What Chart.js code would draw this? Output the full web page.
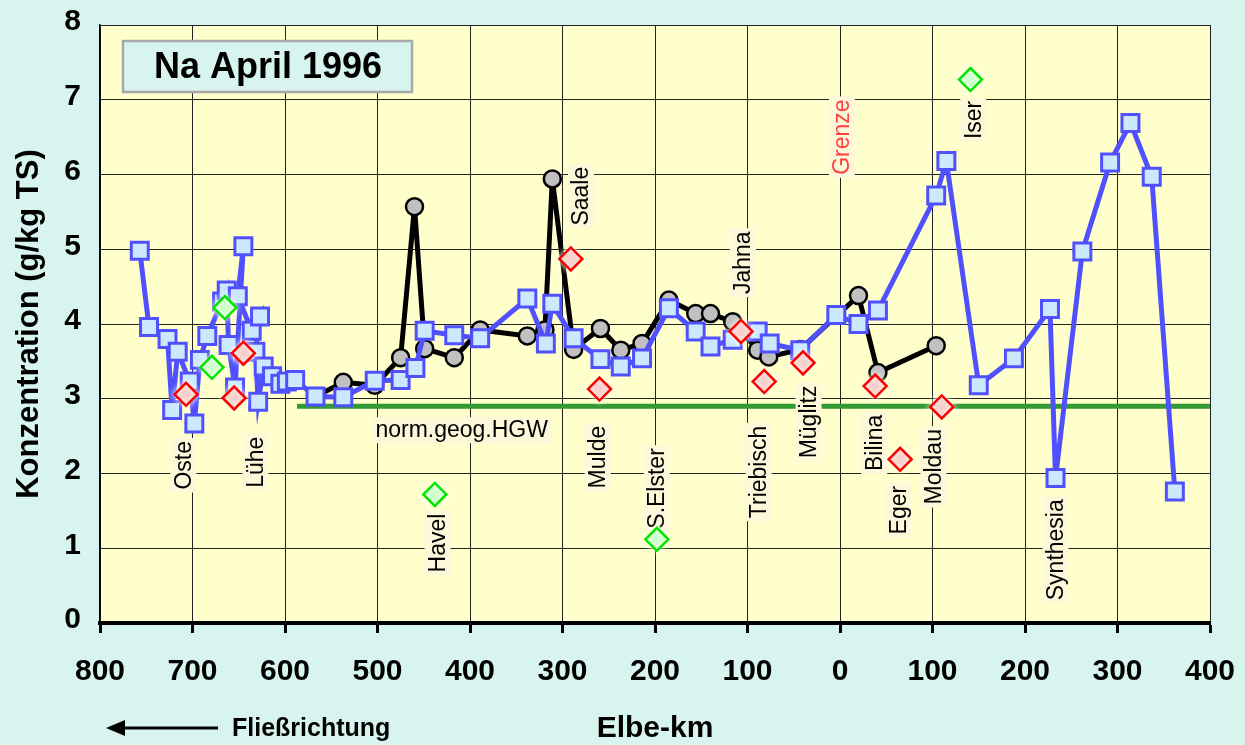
<!DOCTYPE html>
<html>
<head>
<meta charset="utf-8">
<script src="https://cdn.jsdelivr.net/npm/chart.js@4.4.1/dist/chart.umd.min.js"></script>
<style>
  html, body { margin: 0; padding: 0; background: #d8f4ee; }
  #wrap { width: 1245px; height: 745px; }
</style>
</head>
<body>
<div id="wrap"><canvas id="myChart" width="1245" height="745"></canvas></div>
<script>
'use strict';

// Elbe-km: German stretch as negative numbers (km from border downstream), Czech stretch positive
let mainKm = [
  -757, -747, -727, -722, -716, -703, -698, -692, -684, -668, -663, -661, -654, -645, -651,
  -636, -627, -632, -629, -623, -614, -605, -598, -589, -567, -537, -503, -475, -459, -449,
  -417, -389, -338, -318, -311, -288, -259, -237, -214, -185, -156, -140, -116, -89, -76,
  -43, -4, 20, 41, 104, 115, 150, 188, 227, 233, 262, 292, 314, 337, 362
];
let mainNa = [
  4.98, 3.96, 3.80, 2.85, 3.63, 3.23, 2.67, 3.52, 3.84, 4.30, 4.45, 3.72, 3.15, 5.04, 4.37,
  3.91, 4.10, 3.63, 2.96, 3.43, 3.30, 3.20, 3.23, 3.25, 3.03, 3.02, 3.24, 3.25, 3.41, 3.91,
  3.85, 3.81, 4.34, 3.74, 4.27, 3.81, 3.53, 3.43, 3.54, 4.21, 3.90, 3.70, 3.79, 3.90, 3.74,
  3.65, 4.12, 4.00, 4.18, 5.72, 6.18, 3.18, 3.54, 4.20, 1.94, 4.97, 6.16, 6.69, 5.97, 1.76
];

let secondKm = [
  -567, -537, -503, -475, -460, -449, -417, -389, -338, -319, -311, -288, -259, -237, -214,
  -185, -156, -140, -116, -89, -77, -43, 20, 41, 104
];
let secondNa = [
  3.03, 3.22, 3.18, 3.55, 5.57, 3.67, 3.55, 3.92, 3.84, 3.92, 5.94, 3.66, 3.94, 3.65, 3.74,
  4.32, 4.14, 4.14, 4.03, 3.65, 3.56, 3.66, 4.38, 3.35, 3.71
];

// tributaries
let redKm = [-707, -655, -645, -291, -260, -107, -82, -40, 38, 65, 110];
let redNa = [3.06, 3.01, 3.61, 4.87, 3.13, 3.90, 3.23, 3.48, 3.17, 2.19, 2.89];
let greenKm = [-679, -665, -438, -198, 141];
let greenNa = [3.42, 4.22, 1.72, 1.12, 7.27];

// geogener Hintergrundwert
let hgwKm = [-587, 400];
let hgwNa = [2.9, 2.9];

let yTicks = [0, 1, 2, 3, 4, 5, 6, 7, 8];

// text notes: name, km, value at text centre
let notes = [
  ['Oste', -710, 2.11],
  ['Lühe', -632, 2.15],
  ['Havel', -435, 1.07],
  ['Saale', -280, 5.71],
  ['Mulde', -262, 2.22],
  ['S.Elster', -198, 1.80],
  ['Jahna', -105, 4.82],
  ['Triebisch', -88, 2.02],
  ['Müglitz', -34, 2.69],
  ['Grenze', 2, 6.50],
  ['Iser', 144, 6.73],
  ['Bilina', 37, 2.41],
  ['Eger', 63, 1.51],
  ['Moldau', 101, 2.09],
  ['Synthesia', 233, 0.98]
];
let hgwNote = ['norm.geog.HGW', -409, 2.58];

const FONT = '"Liberation Sans", Arial, sans-serif';

function toPoints(xs, ys) {
  return xs.map((x, i) => ({ x: x, y: ys[i] }));
}

function drawNotes(chart) {
  const { ctx } = chart;
  const xs = chart.scales.x;
  const ys = chart.scales.y;
  ctx.save();
  ctx.font = '23px ' + FONT;
  ctx.textAlign = 'center';
  ctx.textBaseline = 'middle';
  for (let i = 0; i < notes.length; i++) {
    const n = notes[i];
    const px = xs.getPixelForValue(n[1]);
    const py = ys.getPixelForValue(n[2]);
    const w = ctx.measureText(n[0]).width;
    ctx.save();
    ctx.translate(px, py);
    ctx.rotate(-Math.PI / 2);
    ctx.fillStyle = '#fdf8da';
    ctx.fillRect(-w / 2 - 3, -13, w + 6, 26);
    ctx.fillStyle = n[0] === 'Grenze' ? '#ff4040' : '#000';
    ctx.fillText(n[0], 0, 1);
    ctx.restore();
  }
  // HGW caption
  const hx = xs.getPixelForValue(hgwNote[1]);
  const hy = ys.getPixelForValue(hgwNote[2]);
  const hw = ctx.measureText(hgwNote[0]).width;
  ctx.fillStyle = '#fdf8da';
  ctx.fillRect(hx - hw / 2 - 3, hy - 13, hw + 6, 26);
  ctx.fillStyle = '#000';
  ctx.fillText(hgwNote[0], hx, hy + 1);
  ctx.restore();
}

const backdrop = {
  id: 'backdrop',
  beforeDraw(chart) {
    const { ctx, chartArea: a } = chart;
    ctx.save();
    ctx.fillStyle = '#d8f4ee';
    ctx.fillRect(0, 0, chart.width, chart.height);
    ctx.fillStyle = '#ffffcc';
    ctx.fillRect(a.left, a.top, a.right - a.left, a.bottom - a.top);
    ctx.restore();
  },
  beforeDatasetsDraw(chart) {
    const { ctx } = chart;
    // title box
    ctx.save();
    ctx.fillStyle = '#d8f4ee';
    ctx.fillRect(123, 41, 289, 51);
    ctx.strokeStyle = '#a8a8a8';
    ctx.lineWidth = 2.5;
    ctx.strokeRect(123, 41, 289, 51);
    ctx.fillStyle = '#000';
    ctx.font = 'bold 36px ' + FONT;
    ctx.textAlign = 'center';
    ctx.textBaseline = 'middle';
    ctx.fillText('Na April 1996', 268, 68);
    ctx.restore();
  },
  beforeDatasetDraw(chart, args) {
    // pale glow round the tributary diamonds
    if (args.index < 2) {
      chart.ctx.save();
      chart.ctx.shadowColor = 'rgba(255,255,235,1)';
      chart.ctx.shadowBlur = 6;
    }
  },
  afterDatasetDraw(chart, args) {
    if (args.index < 2) chart.ctx.restore();
    // river names sit above the HGW line but below the sample markers
    if (args.index === 4) drawNotes(chart);
  },
  afterDraw(chart) {
    const { ctx } = chart;
    ctx.save();
    ctx.strokeStyle = '#000';
    ctx.fillStyle = '#000';
    ctx.lineWidth = 3;
    ctx.beginPath();
    ctx.moveTo(120, 728);
    ctx.lineTo(218, 728);
    ctx.stroke();
    ctx.beginPath();
    ctx.moveTo(106, 728);
    ctx.lineTo(125, 720);
    ctx.lineTo(125, 736);
    ctx.closePath();
    ctx.fill();
    ctx.font = 'bold 25px ' + FONT;
    ctx.textAlign = 'left';
    ctx.textBaseline = 'middle';
    ctx.fillText('Fließrichtung', 232, 729);
    ctx.restore();
  }
};

const ctx = document.getElementById('myChart').getContext('2d');

let myChart = new Chart(ctx, {
  type: 'line',
  data: {
    datasets: [{
      label: 'Zuflüsse',
      data: toPoints(redKm, redNa),
      showLine: false,
      pointStyle: 'rectRot',
      pointRadius: 11.5,
      pointBackgroundColor: '#f7cccc',
      pointBorderColor: '#ff0000',
      pointBorderWidth: 2.5,
      order: 0
    }, {
      label: 'Zuflüsse 2',
      data: toPoints(greenKm, greenNa),
      showLine: false,
      pointStyle: 'rectRot',
      pointRadius: 11.5,
      pointBackgroundColor: '#ccffcc',
      pointBorderColor: '#00e600',
      pointBorderWidth: 2.5,
      order: 0
    }, {
      label: 'Elbe',
      data: toPoints(mainKm, mainNa),
      borderColor: '#5050ff',
      borderWidth: 5,
      pointStyle: 'rect',
      pointRadius: 12,
      pointBackgroundColor: '#cce8ff',
      pointBorderColor: '#5050ff',
      pointBorderWidth: 3,
      tension: 0,
      order: 1
    }, {
      label: 'Elbe 2',
      data: toPoints(secondKm, secondNa),
      borderColor: '#000',
      borderWidth: 5,
      pointStyle: 'circle',
      pointRadius: 8.5,
      pointBackgroundColor: '#c0c0c0',
      pointBorderColor: '#000',
      pointBorderWidth: 2.5,
      tension: 0,
      order: 2
    }, {
      label: 'norm.geog.HGW',
      data: toPoints(hgwKm, hgwNa),
      borderColor: '#339933',
      borderWidth: 5,
      pointRadius: 0,
      order: 3
    }]
  },
  options: {
    responsive: false,
    animation: false,
    layout: { padding: { top: 25, right: 35, left: 0, bottom: 0 } },
    plugins: {
      legend: { display: false },
      tooltip: { enabled: false }
    },
    scales: {
      x: {
        type: 'linear',
        min: -800,
        max: 400,
        afterFit: s => {
          s.height = 122;
          s.paddingLeft = 0;
          s.paddingRight = 0;
        },
        afterBuildTicks: s => {
          s.ticks = [];
          for (let v = -800; v <= 400; v += 100) s.ticks.push({ value: v });
        },
        ticks: {
          maxRotation: 0,
          autoSkip: false,
          padding: 21,
          color: '#000',
          font: { family: FONT, size: 30, weight: 'bold' },
          callback: v => Math.abs(v)
        },
        grid: {
          color: '#222',
          lineWidth: 1,
          tickColor: '#000',
          tickWidth: 3,
          tickLength: 10
        },
        border: { color: '#000', width: 4 },
        title: {
          display: true,
          text: 'Elbe-km',
          color: '#000',
          padding: { top: 0, bottom: -2 },
          font: { family: FONT, size: 30, weight: 'bold' }
        }
      },
      y: {
        min: 0,
        max: 8,
        afterFit: s => {
          s.width = 100;
          s.paddingTop = 0;
          s.paddingBottom = 0;
        },
        afterBuildTicks: s => { s.ticks = yTicks.map(v => ({ value: v })); },
        ticks: {
          padding: 19,
          labelOffset: -3,
          color: '#000',
          font: { family: FONT, size: 30, weight: 'bold' }
        },
        grid: { color: '#222', lineWidth: 1, drawTicks: false },
        border: { color: '#000', width: 1.5 },
        title: {
          display: true,
          text: 'Konzentration (g/kg TS)',
          color: '#000',
          padding: { top: 11, bottom: 0 },
          font: { family: FONT, size: 31, weight: 'bold' }
        }
      }
    }
  },
  plugins: [backdrop]
});
</script>
</body>
</html>
